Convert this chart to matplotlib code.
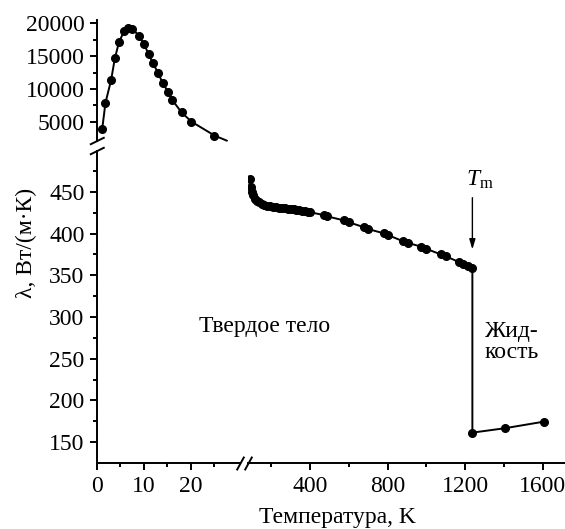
import matplotlib
matplotlib.use('Agg')
import matplotlib.pyplot as plt
from matplotlib.lines import Line2D
from matplotlib.ticker import FixedLocator

plt.rcParams['font.family'] = ['Liberation Serif', 'DejaVu Serif']
plt.rcParams['mathtext.fontset'] = 'custom'
plt.rcParams['mathtext.rm'] = 'Liberation Serif'
plt.rcParams['mathtext.it'] = 'Liberation Serif:italic'

# ---- data ----
# low-temperature region (top panel)
T_low = [1.1, 1.8, 3.0, 3.8, 4.7, 5.8, 6.7, 7.5, 9.0, 10.0, 11.0, 11.9, 13.0,
         14.0, 15.1, 16.0, 18.0, 20.1, 25.0]
lam_low = [3900, 7900, 11350, 14650, 17150, 18800, 19200, 19100, 18050, 16750,
           15300, 13900, 12450, 10850, 9600, 8350, 6450, 5050, 2950]
# extension of the fitted curve beyond the last point
T_low_fit_end = [27.6]
lam_low_fit_end = [2180]

# solid phase (bottom right panel)
T_solid = [90, 97, 101, 106, 115, 125, 135, 150, 165, 180, 195, 210, 225, 240,
           255, 270, 285, 300, 315, 330, 345, 360, 375, 390, 400, 470, 490, 575,
           600, 680, 700, 780, 800, 880, 905, 975, 1000, 1075, 1100, 1170, 1190,
           1215, 1238]
lam_solid = [465.6, 456, 450, 446, 442, 439.5, 437.5, 435.5, 434.3, 433.4,
             432.7, 432.1, 431.6, 431.2, 430.8, 430.3, 429.9, 429.4, 429.0,
             428.5, 428.0, 427.5, 426.9, 426.2, 425.7, 422.2, 420.6, 415.8,
             413.6, 407.5, 405.5, 400.3, 398.5, 390.8, 388.8, 384.3, 381.8,
             375.0, 372.8, 365.8, 364.0, 361.5, 359.2]
# liquid phase
T_liquid = [1238, 1406, 1608]
lam_liquid = [161.4, 166.7, 174.6]

T_melt = 1238

top_yticks = [5000, 10000, 15000, 20000]
top_yminor = [7500, 12500, 17500]
bot_yticks = [150, 200, 250, 300, 350, 400, 450]
bot_yminor = [175, 225, 275, 325, 375, 425, 475]
left_xticks = [0, 10, 20]
left_xminor = [5, 15, 25]
right_xticks = [400, 800, 1200, 1600]
right_xminor = [200, 600, 1000, 1400]

# ---- layout ----
W, H = 565, 529
DPI = 100
fig = plt.figure(figsize=(W / DPI, H / DPI), dpi=DPI)


def rect(l, r, t, b):
    return [l / W, 1 - b / H, (r - l) / W, (b - t) / H]


ax_top = fig.add_axes(rect(97, 240, 20, 141))
ax_bl = fig.add_axes(rect(97, 240, 151, 463))
ax_br = fig.add_axes(rect(248, 565, 151, 463))

FS = 17
LW = 1.4
for ax in (ax_top, ax_bl, ax_br):
    ax.set_facecolor('none')
    for s in ax.spines.values():
        s.set_visible(False)
        s.set_linewidth(LW)
    ax.tick_params(which='major', direction='out', length=5, width=LW,
                   labelsize=FS, pad=4)
    ax.tick_params(which='minor', direction='out', length=3, width=LW)

# top panel
ax_top.spines['left'].set_visible(True)
ax_top.set_xlim(0, 30.43)
ax_top.set_ylim(2121, 20455)
ax_top.set_xticks([])
ax_top.yaxis.set_major_locator(FixedLocator(top_yticks))
ax_top.yaxis.set_minor_locator(FixedLocator(top_yminor))
ax_top.plot(T_low + T_low_fit_end, lam_low + lam_low_fit_end, color='black',
            lw=LW, clip_on=False)
ax_top.plot(T_low, lam_low, 'o', color='black', ms=5.5, clip_on=False)

# bottom-left panel (axis only)
ax_bl.spines['left'].set_visible(True)
ax_bl.spines['bottom'].set_visible(True)
ax_bl.set_xlim(0, 30.43)
ax_bl.set_ylim(125, 499)
ax_bl.xaxis.set_major_locator(FixedLocator(left_xticks))
ax_bl.xaxis.set_minor_locator(FixedLocator(left_xminor))
ax_bl.yaxis.set_major_locator(FixedLocator(bot_yticks))
ax_bl.yaxis.set_minor_locator(FixedLocator(bot_yminor))

# bottom-right panel
ax_br.spines['bottom'].set_visible(True)
ax_br.set_xlim(80, 1716)
ax_br.set_ylim(125, 499)
ax_br.set_yticks([])
ax_br.xaxis.set_major_locator(FixedLocator(right_xticks))
ax_br.xaxis.set_minor_locator(FixedLocator(right_xminor))
ax_br.plot(T_solid + T_liquid, lam_solid + lam_liquid, color='black', lw=LW)
ax_br.plot(T_solid + T_liquid, lam_solid + lam_liquid, 'o', color='black',
           ms=5.5, lw=0)

ax_br.annotate('', xy=(T_melt, 381), xytext=(T_melt, 443),
               arrowprops=dict(arrowstyle='-|>,head_length=0.6,head_width=0.18',
                               lw=1.0, color='black', mutation_scale=10,
                               shrinkA=0, shrinkB=0))
ax_br.text(T_melt + 39, 464, r'$T_{\mathrm{m}}$', ha='center', va='center',
           fontsize=FS)
ax_br.text(165, 282, 'Твердое тело', ha='center', va='baseline', fontsize=FS)
ax_br.text(1303, 276.5, 'Жид-', ha='left', va='baseline', fontsize=FS)
ax_br.text(1303, 250.6, 'кость', ha='left', va='baseline', fontsize=FS)

# axis labels
fig.text(337.5 / W, 1 - 523 / H, 'Температура, K', ha='center', va='baseline',
         fontsize=FS)
fig.text(26 / W, 1 - 243 / H, 'λ, Вт/(м·К)', ha='center', va='center',
         rotation=90, fontsize=FS)


# axis break marks
def slash(cx, cy, dx, dy):
    fig.add_artist(Line2D([(cx - dx) / W, (cx + dx) / W],
                          [1 - (cy + dy) / H, 1 - (cy - dy) / H],
                          transform=fig.transFigure, color='black', lw=LW))


slash(97.3, 141, 6.5, 3.2)
slash(97.3, 151, 6.5, 3.2)
slash(240.5, 463.5, 3.3, 6)
slash(248.5, 463.5, 3.3, 6)

fig.savefig('out.png', dpi=DPI)
